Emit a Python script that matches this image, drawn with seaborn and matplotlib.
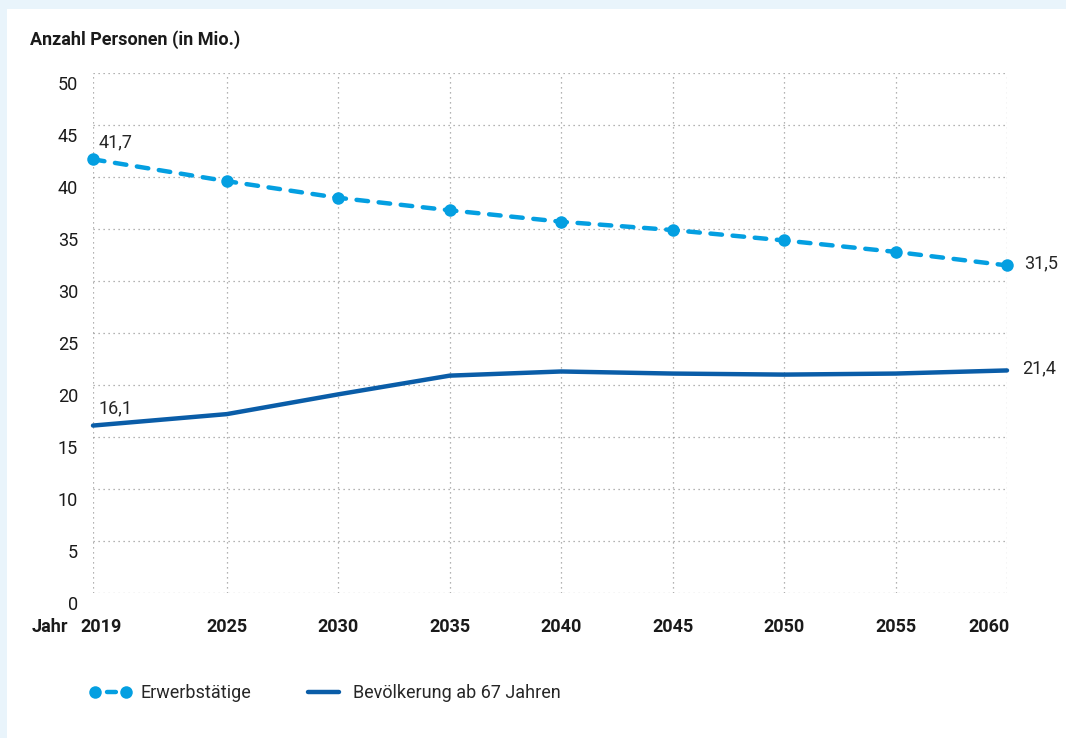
import matplotlib
matplotlib.use("Agg")
import matplotlib.pyplot as plt
import matplotlib.patches as mpatches
from matplotlib import font_manager
from matplotlib.lines import Line2D
from matplotlib.transforms import ScaledTranslation
import pandas as pd
import seaborn as sns

# data
years = [2019, 2025, 2030, 2035, 2040, 2045, 2050, 2055, 2060]
erwerbstaetige = [41.7, 39.6, 38.0, 36.8, 35.7, 34.9, 33.9, 32.8, 31.5]
bevoelkerung_67 = [16.1, 17.2, 19.1, 20.9, 21.3, 21.1, 21.0, 21.1, 21.4]
y_ticks = [0, 5, 10, 15, 20, 25, 30, 35, 40, 45, 50]
label_erw = "Erwerbstätige"
label_bev = "Bevölkerung ab 67 Jahren"

LIGHT = "#049FE1"
DARK = "#0A5DA8"
BG = "#E9F4FB"
FS = 13

sns.set_theme(style="white")
available = {f.name for f in font_manager.fontManager.ttflist}
family = [f for f in ["Liberation Sans Narrow", "Roboto", "DejaVu Sans"] if f in available]
plt.rcParams["font.family"] = family

df = pd.DataFrame({"Jahr": years, "erw": erwerbstaetige, "bev": bevoelkerung_67})

W, H, DPI = 1066, 738, 100
fig = plt.figure(figsize=(W / DPI, H / DPI), dpi=DPI, facecolor=BG)
fig.patches.append(mpatches.Rectangle((7 / W, 0), 1, 1 - 9 / H, transform=fig.transFigure,
                                      facecolor="white", edgecolor="none", zorder=-5))

ax = fig.add_axes([93 / W, (H - 593) / H, (1007 - 93) / W, (593 - 73) / H])
ax.set_facecolor("none")
ax.set_zorder(2)

sns.lineplot(data=df, x="Jahr", y="bev", ax=ax, color=DARK, linewidth=3.2,
             solid_capstyle="round", clip_on=False, zorder=3)
sns.lineplot(data=df, x="Jahr", y="erw", ax=ax, color=LIGHT, linewidth=3.2,
             dashes=(2.6, 2.4), dash_capstyle="round", marker="o", markersize=9,
             markeredgewidth=0, clip_on=False, zorder=4)

ax.set_xlim(years[0], years[-1])
ax.set_ylim(0, 50)
ax.set_xticks(years)
ax.set_yticks(y_ticks)
ax.grid(True, color="#9a9a9a", linestyle=(0, (1, 3)), linewidth=0.9)
for s in ax.spines.values():
    s.set_visible(False)
ax.set_xlabel("")
ax.set_ylabel("")
ax.tick_params(axis="both", length=0)
ax.tick_params(axis="x", pad=18, labelsize=FS)
ax.set_xticklabels([str(y) for y in years], fontweight="bold", color="#1a1a1a")

# edge year labels are pulled inside the plot area
xlabels = ax.get_xticklabels()
xlabels[0].set_transform(xlabels[0].get_transform()
                         + ScaledTranslation(8 / DPI, 0, fig.dpi_scale_trans))
xlabels[-1].set_horizontalalignment("right")
xlabels[-1].set_transform(xlabels[-1].get_transform()
                          + ScaledTranslation(3 / DPI, 0, fig.dpi_scale_trans))

# y tick labels sit just below their gridlines
ax.set_yticklabels([])
off = ScaledTranslation(0, -12 / DPI, fig.dpi_scale_trans)
for v in y_ticks:
    ax.text(-15 / (1007 - 93), v, str(v), transform=ax.get_yaxis_transform() + off,
            ha="right", va="center", fontsize=FS, color="#1a1a1a")

fig.text(32 / W, 1 - 627 / H, "Jahr", ha="left", va="center", fontsize=FS,
         fontweight="bold", color="#1a1a1a")
fig.text(30 / W, 1 - 40 / H, "Anzahl Personen (in Mio.)", ha="left", va="center",
         fontsize=FS, fontweight="bold", color="#1a1a1a")

def fmt(v):
    return f"{v:.1f}".replace(".", ",")

px = fig.dpi_scale_trans
ax.text(years[0], erwerbstaetige[0], fmt(erwerbstaetige[0]), fontsize=FS,
        ha="left", va="bottom", transform=ax.transData + ScaledTranslation(6 / DPI, 8 / DPI, px))
ax.text(years[0], bevoelkerung_67[0], fmt(bevoelkerung_67[0]), fontsize=FS,
        ha="left", va="bottom", transform=ax.transData + ScaledTranslation(6 / DPI, 8 / DPI, px))
ax.text(years[-1], erwerbstaetige[-1], fmt(erwerbstaetige[-1]), fontsize=FS,
        ha="left", va="center", transform=ax.transData + ScaledTranslation(17 / DPI, 2 / DPI, px))
ax.text(years[-1], bevoelkerung_67[-1], fmt(bevoelkerung_67[-1]), fontsize=FS,
        ha="left", va="center", transform=ax.transData + ScaledTranslation(15 / DPI, 2 / DPI, px))

handles = [
    Line2D([], [], color=LIGHT, linewidth=3.2, linestyle=(2.0, (2.0, 2.7)),
           dash_capstyle="round", marker="o", markersize=9, markeredgewidth=0),
    Line2D([], [], color=DARK, linewidth=3.2, solid_capstyle="round"),
]
fig.legend(handles, [label_erw, label_bev], loc="center left",
           bbox_to_anchor=(90 / W, 1 - 693 / H), ncol=2, frameon=False,
           fontsize=FS, numpoints=2, handlelength=2.3, handletextpad=0.5,
           columnspacing=2.85, borderaxespad=0, borderpad=0)

fig.savefig("out.png", dpi=DPI, facecolor=BG)
